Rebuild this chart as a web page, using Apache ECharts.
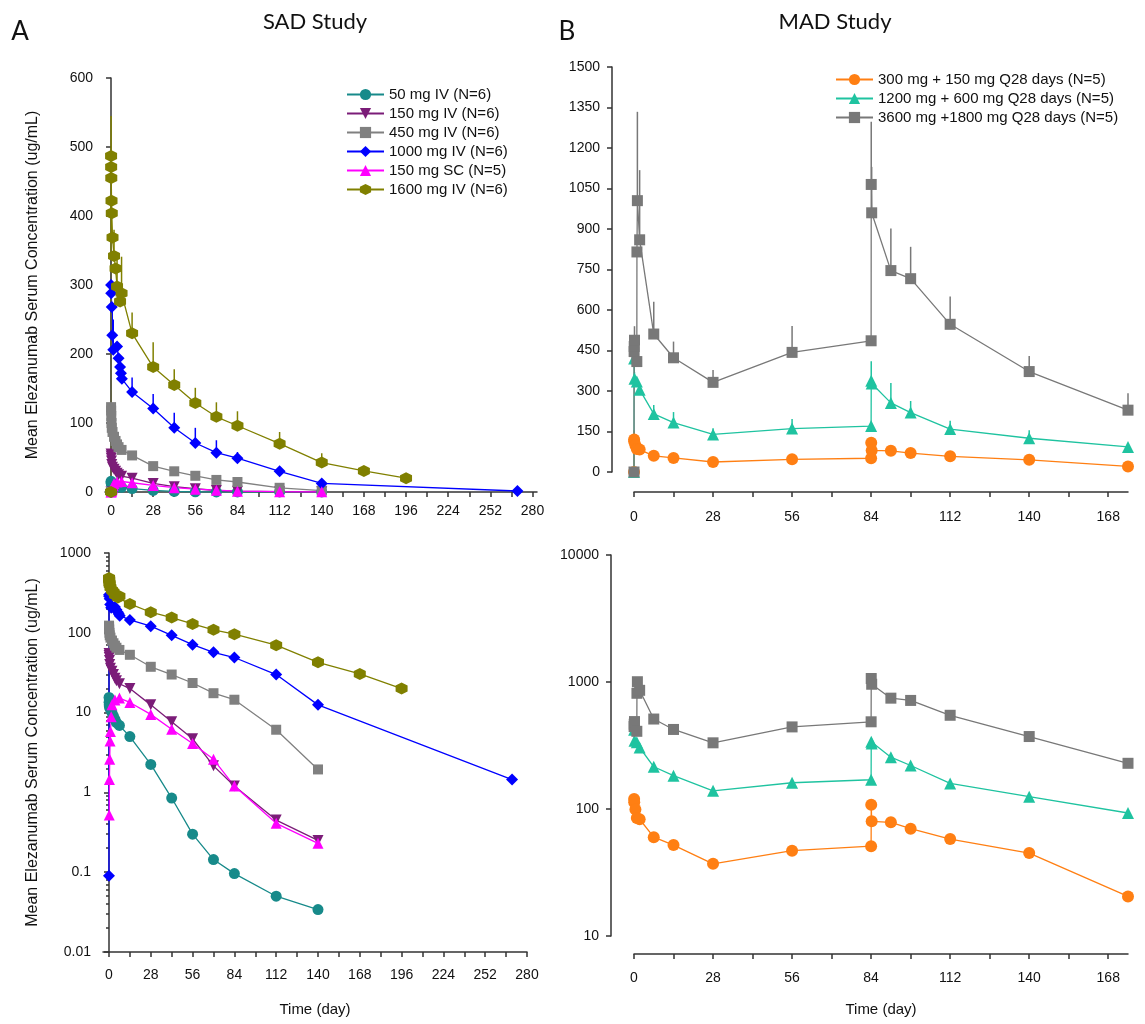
<!DOCTYPE html>
<html>
<head>
<meta charset="utf-8">
<title>Elezanumab serum concentration</title>
<script src="https://cdn.jsdelivr.net/npm/echarts@6/dist/echarts.min.js"></script>
<style>
  html, body { margin: 0; background: #fff; }
  #chart { width: 1145px; height: 1024px; }
</style>
</head>
<body>
<div id="chart"></div>
<script>
// SAD study, time in days, concentration in ug/mL; u* = mean + SD (null = no bar)
const tIV = [0, 0.04, 0.08, 0.17, 0.33, 0.5, 1, 2, 3, 4, 5, 7, 14, 28, 42, 56, 70, 84, 112, 140];
const c50 = [0, 15.5, 13.5, 12.5, 12, 11.5, 11, 10, 9, 8.2, 7.5, 6.9, 5.0, 2.24, 0.85, 0.30, 0.144, 0.096, 0.05, 0.034];
const u50 = [null, 18, null, null, null, null, null, null, null, null, null, null, null, null, null, null, null, null, null, null];
const c150 = [0, 55, 52, 49, 45, 40, 36, 33, 30, 27, 25, 23, 20, 12.5, 7.7, 4.7, 2.15, 1.2, 0.45, 0.25];
const u150 = [null, 62, null, null, null, null, null, null, null, null, null, null, null, null, null, null, null, null, null, null];
const c450 = [0, 123, 118, 110, 100, 93, 87, 80, 74, 69, 65, 61, 53, 37.5, 30, 23.5, 17.5, 14.5, 6.1, 1.94];
const u450 = [null, 150, null, null, null, null, null, null, null, null, null, null, null, null, null, null, null, null, null, null];

const t1000 = [0, 0.04, 0.1, 0.5, 0.8, 1.5, 4, 5, 6, 6.6, 7.2, 14, 28, 42, 56, 70, 84, 112, 140, 270];
const c1000 = [0.09, 300, 288, 268, 227, 206, 211, 194, 181, 172, 164, 145, 121, 93, 71, 57, 49, 30, 12.5, 1.45];
const u1000 = [null, 340, null, null, 270, 250, null, null, null, null, null, 166, 142, 115, 93, 75, 58, 33, 14, null];

const tSC = [0, 0.17, 0.33, 0.5, 0.75, 1, 1.5, 2, 4, 7, 14, 28, 42, 56, 70, 84, 112, 140];
const cSC = [0, 0.52, 1.45, 2.6, 4.4, 5.8, 8.9, 12.5, 14.4, 15.2, 13.4, 9.5, 6.2, 4.1, 2.6, 1.2, 0.41, 0.23];

const t1600 = [0, 0.04, 0.08, 0.17, 0.33, 0.5, 1, 2, 3, 4, 6, 7, 14, 28, 42, 56, 70, 84, 112, 140, 168, 196];
const c1600 = [0, 487, 471, 455, 422, 404, 369, 342, 324, 298, 276, 288, 230, 181, 155, 129, 109, 96, 70, 42.6, 30.5, 20];
const u1600 = [null, 545, null, null, null, null, null, 380, null, 340, null, 341, 260, 217, 178, 151, 130, 117, 87, 56, null, null];

// MAD study
const t300 = [0, 0.04, 0.08, 0.5, 1, 2, 7, 14, 28, 56, 84, 84.04, 84.2, 91, 98, 112, 140, 175];
const c300 = [0, 120, 113, 99, 85, 83, 60, 52, 37, 47, 51, 108, 80, 78.5, 70, 58, 45, 20.5];
const u300 = [null, 155, null, null, null, null, null, null, null, null, null, null, null, null, null, null, null, null];

const t1200 = [0, 0.04, 0.17, 1, 2, 7, 14, 28, 56, 84, 84.04, 84.2, 91, 98, 112, 140, 175];
const c1200 = [0, 420, 345, 335, 305, 215, 183, 139, 161, 170, 338, 328, 256, 220, 159, 125, 93];
const u1200 = [null, 452, 370, null, null, 248, 222, 162, 196, null, 410, null, 330, 263, 190, 155, null];

const t3600 = [0, 0.04, 0.08, 0.17, 1, 1.04, 1.2, 2, 7, 14, 28, 56, 84, 84.04, 84.2, 91, 98, 112, 140, 175];
const c3600 = [0, 446, 465, 488, 409, 815, 1005, 860, 511, 423, 332, 443, 486, 1065, 960, 746, 716, 547, 372, 229];
const u3600 = [null, null, null, 540, null, null, 1334, 1118, 631, 483, 378, 541, null, 1297, 1130, 902, 834, 650, 430, 292];

// axis ticks / labels
const sadTicks = [0, 14, 28, 42, 56, 70, 84, 98, 112, 126, 140, 154, 168, 182, 196, 210, 224, 238, 252, 266, 280];
const sadLabels = [0, 28, 56, 84, 112, 140, 168, 196, 224, 252, 280];
const madTicks = [0, 14, 28, 42, 56, 70, 84, 98, 112, 126, 140, 154, 168];
const madLabels = [0, 28, 56, 84, 112, 140, 168];

const yTitle = 'Mean Elezanumab Serum Concentration (ug/mL)';
const hexagon = 'path://M0,-10L8.66,-5L8.66,5L0,10L-8.66,5L-8.66,-5Z';
const diamond = 'path://M0,-10L10,0L0,10L-10,0Z';
const triDown = 'path://M-10,-8L10,-8L0,9Z';

const sadSeries = [
  { name: '50 mg IV (N=6)', t: tIV, c: c50, u: u50, color: '#178a8a', symbol: 'circle', size: 11 },
  { name: '150 mg IV (N=6)', t: tIV, c: c150, u: u150, color: '#7b1c78', symbol: triDown, size: 11 },
  { name: '450 mg IV (N=6)', t: tIV, c: c450, u: u450, color: '#808080', symbol: 'rect', size: 10 },
  { name: '1000 mg IV (N=6)', t: t1000, c: c1000, u: u1000, color: '#0000ff', symbol: diamond, size: 12 },
  { name: '150 mg SC (N=5)', t: tSC, c: cSC, u: null, color: '#ff00ff', symbol: 'triangle', size: 11 },
  { name: '1600 mg IV (N=6)', t: t1600, c: c1600, u: u1600, color: '#808000', symbol: hexagon, size: 12 }
];
const madSeries = [
  { name: '300 mg + 150 mg Q28 days (N=5)', t: t300, c: c300, u: u300, color: '#ff7f13', symbol: 'circle', size: 12 },
  { name: '1200 mg + 600 mg Q28 days (N=5)', t: t1200, c: c1200, u: u1200, color: '#1fc3a0', symbol: 'triangle', size: 12 },
  { name: '3600 mg +1800 mg Q28 days (N=5)', t: t3600, c: c3600, u: u3600, color: '#787878', symbol: 'rect', size: 11 }
];

const font = 'Liberation Sans';
const plain = v => String(v);
const axisText = { color: '#111', fontFamily: font, fontSize: 14 };
const axisLineStyle = { color: '#333', width: 1.5 };

function lineSeries(s, g, log) {
  const data = s.t.map((x, i) => [x, s.c[i]]).filter(p => !log || p[1] > 0);
  return {
    type: 'line', name: s.name, xAxisIndex: g, yAxisIndex: g, data,
    symbol: s.symbol, symbolSize: s.size, clip: false, z: 3,
    lineStyle: { color: s.color, width: 1.3 },
    itemStyle: { color: s.color }
  };
}

function errorSeries(s, g) {
  const data = s.t.map((x, i) => [x, s.c[i], s.u ? s.u[i] : null]).filter(d => d[2] != null);
  return {
    type: 'custom', xAxisIndex: g, yAxisIndex: g, data, z: 2, silent: true,
    encode: { x: 0, y: [1, 2] },
    renderItem: (params, api) => {
      const a = api.coord([api.value(0), api.value(1)]);
      const b = api.coord([api.value(0), api.value(2)]);
      return { type: 'line', shape: { x1: a[0], y1: a[1], x2: b[0], y2: b[1] },
               style: { stroke: s.color, lineWidth: 1.5 } };
    }
  };
}

function xAxis(g, min, max, ticks, labels, extra) {
  return Object.assign({
    gridIndex: g, type: 'value', min, max,
    axisLine: { show: true, onZero: true, lineStyle: axisLineStyle },
    axisTick: { show: true, customValues: ticks, length: 5, lineStyle: axisLineStyle },
    axisLabel: Object.assign({ customValues: labels, margin: 12 }, axisText),
    splitLine: { show: false }
  }, extra);
}

const series = [];
sadSeries.forEach(s => { series.push(errorSeries(s, 0)); series.push(lineSeries(s, 0, false)); });
sadSeries.forEach(s => series.push(lineSeries(s, 1, true)));
madSeries.forEach(s => { series.push(errorSeries(s, 2)); series.push(lineSeries(s, 2, false)); });
madSeries.forEach(s => series.push(lineSeries(s, 3, true)));

const legendText = { fontSize: 15, fontFamily: font, color: '#111' };
const titleFont = '22px Lato';

const chart = echarts.init(document.getElementById('chart'));
chart.setOption({
  animation: false,
  backgroundColor: '#fff',
  grid: [
    { left: 105, top: 78, width: 432, height: 414 },
    { left: 103, top: 553, width: 424, height: 399 },
    { left: 634, top: 67, width: 494, height: 405 },
    { left: 634, top: 555, width: 494, height: 381 }
  ],
  xAxis: [
    xAxis(0, -4, 283, sadTicks, sadLabels, {}),
    xAxis(1, -4, 280, sadTicks, sadLabels, {
      name: 'Time (day)', nameLocation: 'middle', nameGap: 50,
      nameTextStyle: { fontFamily: font, fontSize: 15, color: '#111' },
      axisLabel: Object.assign({ customValues: sadLabels, margin: 16 }, axisText)
    }),
    xAxis(2, 0, 175, madTicks, madLabels, {
      offset: 20, axisLine: { show: true, onZero: false, lineStyle: axisLineStyle },
      axisLabel: Object.assign({ customValues: madLabels, margin: 18 }, axisText)
    }),
    xAxis(3, 0, 175, madTicks, madLabels, {
      offset: 18, axisLine: { show: true, onZero: false, lineStyle: axisLineStyle },
      axisLabel: Object.assign({ customValues: madLabels, margin: 17 }, axisText),
      name: 'Time (day)', nameLocation: 'middle', nameGap: 48,
      nameTextStyle: { fontFamily: font, fontSize: 15, color: '#111' }
    })
  ],
  yAxis: [
    {
      gridIndex: 0, type: 'value', min: 0, max: 600, interval: 100,
      axisLine: { show: true, onZero: true, lineStyle: axisLineStyle },
      axisTick: { show: true, length: 5, lineStyle: axisLineStyle },
      axisLabel: Object.assign({ margin: 12, formatter: plain }, axisText),
      splitLine: { show: false },
      name: yTitle, nameLocation: 'middle', nameGap: 64,
      nameTextStyle: { fontFamily: font, fontSize: 16, color: '#111' }
    },
    {
      gridIndex: 1, type: 'log', logBase: 10, min: 0.01, max: 1000,
      axisLine: { show: true, onZero: true, lineStyle: axisLineStyle },
      axisTick: { show: true, length: 5, lineStyle: axisLineStyle },
      minorTick: { show: true, splitNumber: 9, length: 3, lineStyle: axisLineStyle },
      axisLabel: Object.assign({ margin: 12, formatter: plain }, axisText),
      splitLine: { show: false },
      name: yTitle, nameLocation: 'middle', nameGap: 62,
      nameTextStyle: { fontFamily: font, fontSize: 16, color: '#111' }
    },
    {
      gridIndex: 2, type: 'value', min: 0, max: 1500, interval: 150, offset: 22,
      axisLine: { show: true, onZero: false, lineStyle: axisLineStyle },
      axisTick: { show: true, length: 5, lineStyle: axisLineStyle },
      axisLabel: Object.assign({ margin: 12, formatter: plain }, axisText),
      splitLine: { show: false }
    },
    {
      gridIndex: 3, type: 'log', logBase: 10, min: 10, max: 10000, offset: 23,
      axisLine: { show: true, onZero: false, lineStyle: axisLineStyle },
      axisTick: { show: true, length: 5, lineStyle: axisLineStyle },
      axisLabel: Object.assign({ margin: 12, formatter: plain }, axisText),
      splitLine: { show: false }
    }
  ],
  legend: [
    {
      data: sadSeries.map(s => s.name), orient: 'vertical', left: 341, top: 82,
      itemWidth: 37, itemHeight: 14, itemGap: 4, textStyle: legendText
    },
    {
      data: madSeries.map(s => s.name), orient: 'vertical', left: 830, top: 67,
      itemWidth: 37, itemHeight: 14, itemGap: 4, textStyle: legendText
    }
  ],
  graphic: [
    { type: 'text', x: 20, y: 32, style: { text: 'A', font: '26px Lato', fill: '#111', align: 'center', verticalAlign: 'middle' } },
    { type: 'text', x: 315, y: 22, style: { text: 'SAD Study', font: titleFont, fill: '#111', align: 'center', verticalAlign: 'middle' } },
    { type: 'text', x: 567, y: 32, style: { text: 'B', font: '26px Lato', fill: '#111', align: 'center', verticalAlign: 'middle' } },
    { type: 'text', x: 835, y: 22, style: { text: 'MAD Study', font: titleFont, fill: '#111', align: 'center', verticalAlign: 'middle' } }
  ],
  series
});
</script>
</body>
</html>
